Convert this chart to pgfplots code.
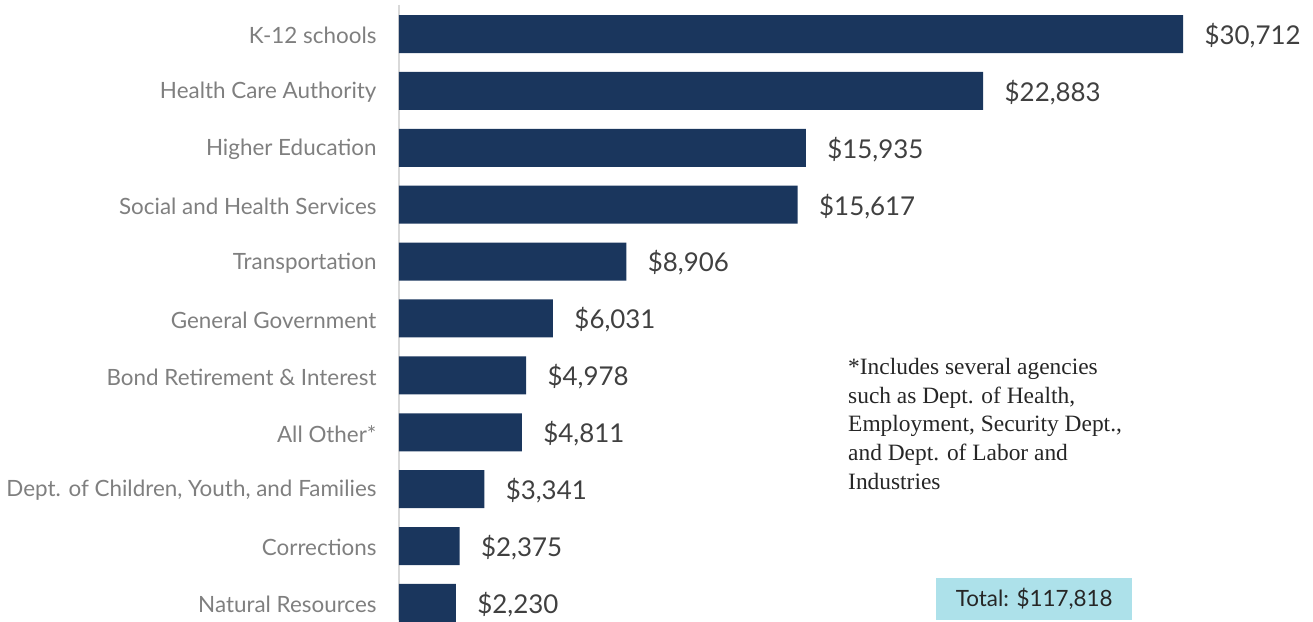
\documentclass[border=0pt]{standalone}
\usepackage{fontspec}
\setmainfont{Lato}
\newfontfamily\notefont{Liberation Serif}
\usepackage{pgfplots}
\pgfplotsset{compat=1.18}
\definecolor{barnavy}{HTML}{1A365D}
\definecolor{axisgray}{HTML}{D9D9D9}
\definecolor{labelgray}{HTML}{7F7F7F}
\definecolor{valgray}{HTML}{404040}
\definecolor{totalbox}{HTML}{ADE1EA}
\begin{document}
\begin{tikzpicture}[x=1bp,y=1bp]
\begin{axis}[
    at={(0bp,0bp)}, anchor=south west,
    scale only axis,
    width=914bp, height=615bp,
    xbar, bar width=38bp,
    xmin=0, xmax=35801,
    ymin=-0.51, ymax=10.3,
    y dir=reverse,
    axis x line=none,
    axis y line*=left,
    y axis line style={axisgray, line width=2bp},
    ytick={0,...,10},
    yticklabels={K-12 schools, Health Care Authority, Higher Education, Social and Health Services, Transportation, General Government, Bond Retirement \& Interest, All Other*, {Dept. of Children, Youth, and Families}, Corrections, Natural Resources},
    major tick length=0pt,
    yticklabel style={font=\fontsize{22.5}{22.5}\selectfont, text=labelgray, xshift=-19bp, yshift=-1.5bp},
    nodes near coords={\$\pgfmathprintnumber[assume math mode=true,1000 sep={,}]{\pgfplotspointmeta}},
    every node near coord/.append style={font=\fontsize{26}{26}\selectfont, text=valgray, xshift=18bp, yshift=-1.5bp},
    clip=false,
]
\addplot[fill=barnavy, draw=none] coordinates {
    (30712,0) (22883,1) (15935,2) (15617,3) (8906,4) (6031,5)
    (4978,6) (4811,7) (3341,8) (2375,9) (2230,10)};
\end{axis}
\node[anchor=north west, align=left, inner sep=0pt, text=black!85,
      font=\notefont\fontsize{23.5}{28.8}\selectfont] at (449bp,262bp)
  {*Includes several agencies\\such as Dept. of Health,\\Employment, Security Dept.,\\and Dept. of Labor and\\Industries};
\node[fill=totalbox, minimum width=196bp, minimum height=42bp, inner sep=0pt,
      anchor=south west, text=black!85, font=\fontsize{22.5}{22.5}\selectfont]
  at (537bp,0bp) {Total: \$117,818};
\path[use as bounding box] (-399bp,0bp) rectangle (914bp,620bp);
\end{tikzpicture}
\end{document}
